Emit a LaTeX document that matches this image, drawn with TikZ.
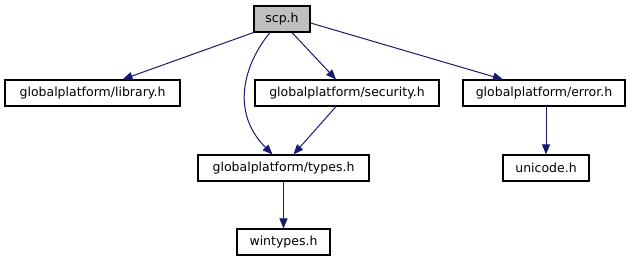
\documentclass[tikz,border=0pt]{standalone}
\usepackage{fontspec}
\setmainfont{DejaVu Sans}
\usetikzlibrary{arrows.meta}
\definecolor{edgeblue}{HTML}{191970}
\definecolor{rootgray}{HTML}{BFBFBF}
\tikzset{
	file/.style={draw=black, line width=1.1pt, minimum height=26pt, inner sep=0pt, font=\fontsize{12.5}{15}\selectfont},
	dep/.style={draw=edgeblue, line width=1pt, -{Triangle[length=10pt,width=8pt,fill=edgeblue]}}
}
\begin{document}
\begin{tikzpicture}[x=1pt,y=-1pt]
			\useasboundingbox (0,0) rectangle (634,261);
			\node[file, fill=rootgray, minimum width=56pt] (scp) at (282,19) {scp.h};
			\node[file, minimum width=175pt] (library) at (92.5,93) {globalplatform/library.h};
			\node[file, minimum width=184pt] (security) at (347,93) {globalplatform/security.h};
			\node[file, minimum width=162pt] (error) at (544,93) {globalplatform/error.h};
			\node[file, minimum width=171pt] (types) at (283.5,168) {globalplatform/types.h};
			\node[file, minimum width=86pt] (unicode) at (546,168) {unicode.h};
			\node[file, minimum width=93pt] (wintypes) at (283.5,242) {wintypes.h};
			
			\draw[dep] (scp.south west) -- ([xshift=30pt]library.north);
			\draw[dep] ([xshift=-12pt]scp.south) .. controls (244,64) and (230,112) .. ([xshift=-11pt]types.north);
			\draw[dep] ([xshift=10pt]scp.south) -- ([xshift=-11pt]security.north);
			\draw[dep] ([yshift=-4pt]scp.east) -- ([xshift=-41pt]error.north);
			\draw[dep] ([xshift=-11pt]security.south) -- ([xshift=10pt]types.north);
			\draw[dep] (error.south -| unicode.north) -- (unicode.north);
			\draw[dep] (types.south) -- (wintypes.north);
		\end{tikzpicture}
\end{document}
